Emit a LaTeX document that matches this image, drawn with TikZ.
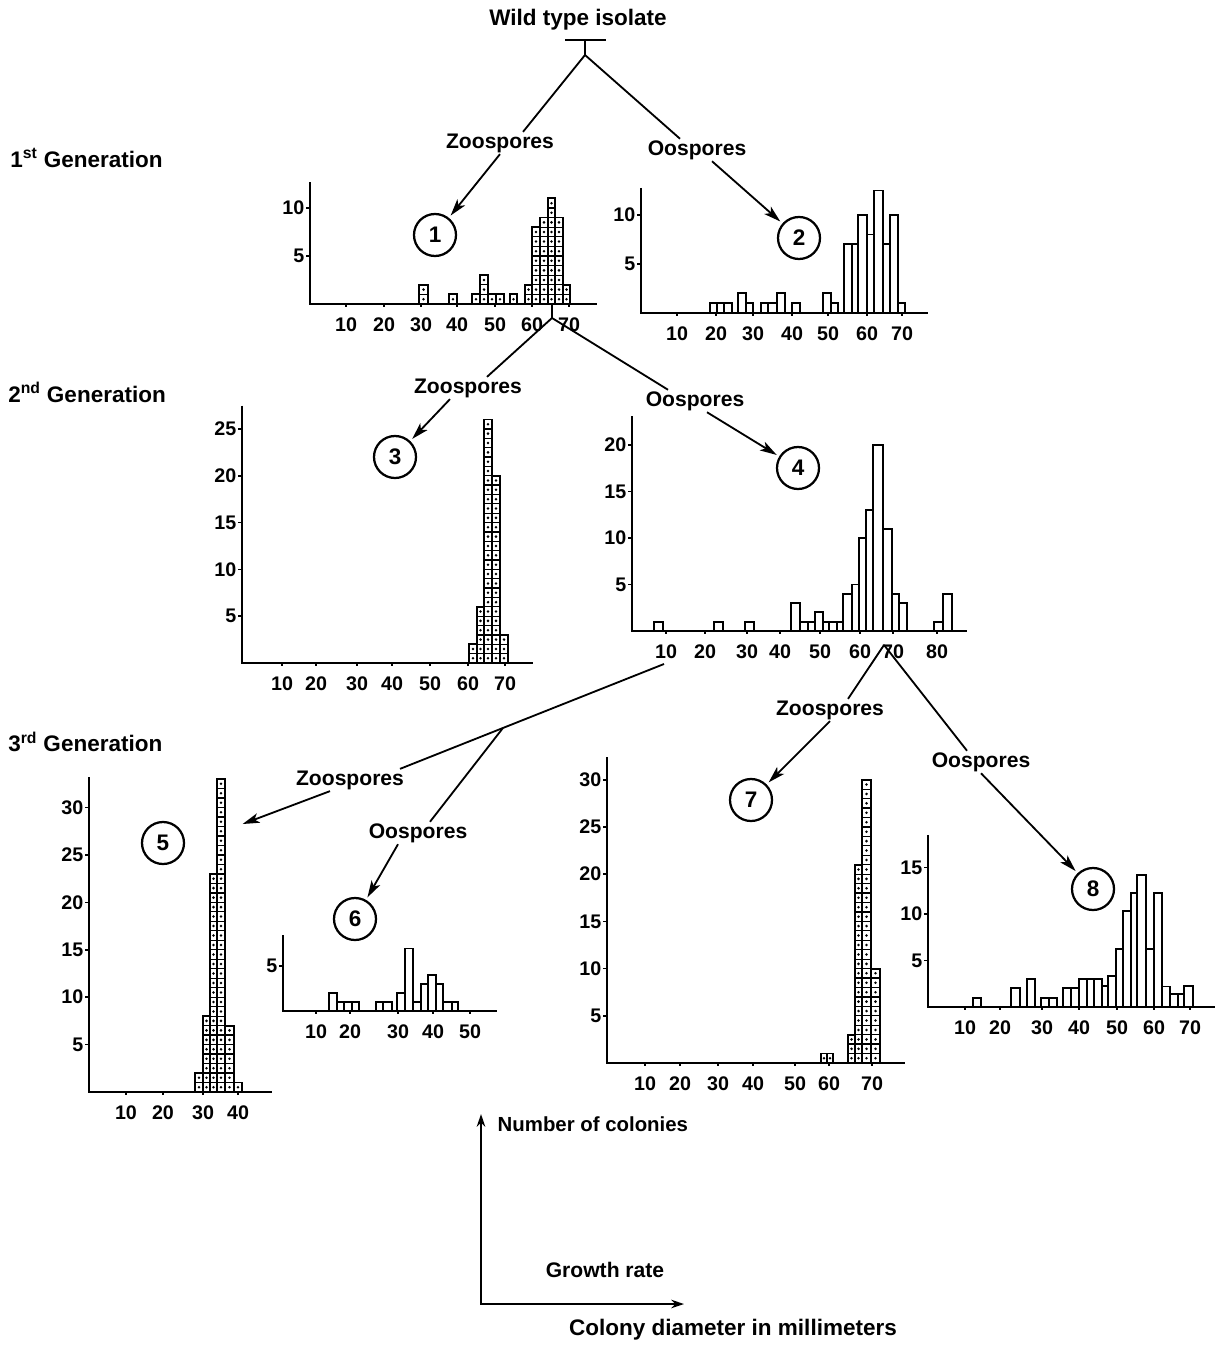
\documentclass[tikz,border=0pt]{standalone}
\usepackage{fontspec}
\setmainfont{Liberation Sans}
\usetikzlibrary{arrows.meta,calc}

\tikzset{
  lbl/.style={font=\fontsize{15}{17}\selectfont\bfseries, inner sep=1pt},
  gen/.style={font=\fontsize{16}{18}\selectfont\bfseries, anchor=west, inner sep=0pt},
  num/.style={circle, draw, line width=1.6pt, minimum size=1.05cm, inner sep=0pt, font=\fontsize{16}{18}\selectfont\bfseries},
  xlab/.style={font=\fontsize{14}{16}\selectfont\bfseries, anchor=center, yshift=-0.52cm, inner sep=0pt},
  ylab/.style={font=\fontsize{14}{16}\selectfont\bfseries, anchor=east, inner sep=1pt},
  axisline/.style={line width=2pt},
  tickline/.style={line width=1.2pt},
  barline/.style={draw, line width=1.3pt},
  cellline/.style={line width=0.9pt},
  branch/.style={line width=1.3pt},
  pointer/.style={line width=1.3pt, -{Stealth[length=12pt,width=7pt,inset=3pt]}, shorten >=2pt},
}

% axes of one histogram: name, axis x, top, end x, x ticks, y ticks
\newcommand{\histaxes}[6]{%
  \draw[axisline] (#2,#3) -- (#2,0) -- (#4,0);
  \foreach \p/\v in {#5}{%
    \draw[tickline] (\p,0) -- (\p,-0.3);
    \node[xlab] (#1x\v) at (\p,0) {\v};
  }
  \foreach \c in {#6}{%
    \draw[tickline] (#2,\c) -- ({#2-4},\c);
    \node[ylab] (#1y\c) at ({#2-4},\c) {\c};
  }
}
\newcommand{\gridbar}[3]{%
  \foreach \k in {1,...,#3}{%
    \draw[cellline] (#1,\k) -- (#2,\k);
    \fill ({(#1+#2)/2},\k-0.5) circle[radius=1pt];
  }
  \draw[barline] (#1,0) rectangle (#2,#3);
}
\newcommand{\plainbar}[3]{\draw[barline] (#1,0) rectangle (#2,#3);}

\begin{document}
\begin{tikzpicture}[x=0.025cm, y=-0.025cm]
    \useasboundingbox (0,0) rectangle (1219,1345);

    % histogram 1
    \begin{scope}[shift={(0,304)}, y=0.24cm]
        \histaxes{h1}{310}{12.7}{597}{346/10,384/20,421/30,457/40,495/50,532/60,569/70}{5,10}
        \foreach \lft/\rgt/\cnt in {419/428/2,449/457/1,472/480/1,480/488/3,488/496/1,496/504/1,510/517/1,
            525/532/2,532/540/8,540/548/9,548/555/11,555/563/9,563/570/2}
            {\gridbar{\lft}{\rgt}{\cnt}}
    \end{scope}

    % histogram 2
    \begin{scope}[shift={(0,313)}, y=0.245cm]
        \histaxes{h2}{641}{12.76}{928}{677/10,716/20,753/30,792/40,828/50,867/60,902/70}{5,10}
        \foreach \lft/\rgt/\cnt in {710/717/1,717/724/1,724/732/1,738/746/2,746/753/1,761/768/1,768/777/1,
            777/785/2,792/800/1,823/831/2,831/838/1,844/852/7,852/858/7,858/867/10,867/874/8,
            874/883/12.5,883/890/7,890/898/10,898/905/1}
            {\plainbar{\lft}{\rgt}{\cnt}}
    \end{scope}

    % histogram 3
    \begin{scope}[shift={(0,663)}, y=0.234cm]
        \histaxes{h3}{242}{27.5}{533}{282/10,316/20,357/30,392/40,430/50,468/60,505/70}{5,10,...,25}
        \foreach \lft/\rgt/\cnt in {469/477/2,477/484/6,484/492/26,492/500/20,500/508/3}
            {\gridbar{\lft}{\rgt}{\cnt}}
    \end{scope}

    % histogram 4
    \begin{scope}[shift={(0,631)}, y=0.2325cm]
        \histaxes{h4}{632}{23.1}{967}{666/10,705/20,747/30,780/40,820/50,860/60,893/70,937/80}{5,10,...,20}
        \foreach \lft/\rgt/\cnt in {654/663/1,714/723/1,745/754/1,791/800/3,800/808/1,808/815/1,815/823/2,
            823/829/1,829/837/1,837/843/1,843/852/4,852/859/5,859/866/10,866/873/13,873/883/20,
            883/892/11,892/899/4,899/907/3,934/943/1,943/952/4}
            {\plainbar{\lft}{\rgt}{\cnt}}
    \end{scope}

    % histogram 5
    \begin{scope}[shift={(0,1092)}, y=0.237cm]
        \histaxes{h5}{89}{33.2}{272}{126/10,163/20,203/30,238/40}{5,10,...,30}
        \foreach \lft/\rgt/\cnt in {195/203/2,203/210/8,210/217/23,217/225/33,225/234/7,234/242/1}
            {\gridbar{\lft}{\rgt}{\cnt}}
    \end{scope}

    % histogram 6
    \begin{scope}[shift={(0,1011)}, y=0.2235cm]
        \histaxes{h6}{283}{8.5}{497}{316/10,350/20,398/30,433/40,470/50}{5}
        \foreach \lft/\rgt/\cnt in {329/337/2,337/344/1,344/352/1,352/359/1,376/383/1,383/392/1,397/405/2,
            405/413/7,413/421/1,421/428/3,428/436/4,436/443/3,443/452/1,452/458/1}
            {\plainbar{\lft}{\rgt}{\cnt}}
    \end{scope}

    % histogram 7
    \begin{scope}[shift={(0,1063)}, y=0.236cm]
        \histaxes{h7}{607}{32.4}{905}{645/10,680/20,718/30,753/40,795/50,829/60,872/70}{5,10,...,30}
        \foreach \lft/\rgt/\cnt in {821/827/1,827/833/1,848/855/3,855/862/21,862/871/30,871/880/10}
            {\gridbar{\lft}{\rgt}{\cnt}}
    \end{scope}

    % histogram 8
    \begin{scope}[shift={(0,1007)}, y=0.2325cm]
        \histaxes{h8}{928}{18.5}{1215}{965/10,1000/20,1042/30,1079/40,1117/50,1154/60,1190/70}{5,10,15}
        \foreach \lft/\rgt/\cnt in {973/981/1,1011/1020/2,1027/1035/3,1041/1049/1,1049/1057/1,1063/1071/2,
            1071/1079/2,1079/1087/3,1087/1094/3,1094/1102/3,1102/1108/2.3,1108/1116/3.3,1116/1123/6.2,
            1123/1131/10.3,1131/1137/12.3,1137/1146/14.2,1146/1154/6.2,1154/1162/12.3,1162/1170/2.2,
            1170/1178/1.4,1178/1184/1.4,1184/1193/2.3}
            {\plainbar{\lft}{\rgt}{\cnt}}
    \end{scope}

    % labels
    \node[lbl, font=\fontsize{16}{18}\selectfont\bfseries] (wt) at (578,20) {Wild type isolate};
    \node[gen] (g1) at (10,158) {1\textsuperscript{st} Generation};
    \node[gen] (g2) at (8,392) {2\textsuperscript{nd} Generation};
    \node[gen] (g3) at (8,742) {3\textsuperscript{rd} Generation};

    \node[lbl] (z1) at (500,143) {Zoospores};
    \node[lbl] (o1) at (697,150) {Oospores};
    \node[num] (c1) at (435,235) {1};
    \node[num] (c2) at (799,238) {2};

    \node[lbl] (z2) at (468,388) {Zoospores};
    \node[lbl] (o2) at (695,401) {Oospores};
    \node[num] (c3) at (395,457) {3};
    \node[num] (c4) at (798,468) {4};

    \node[lbl] (z3) at (350,780) {Zoospores};
    \node[lbl] (o3) at (418,833) {Oospores};
    \node[num] (c5) at (163,843) {5};
    \node[num] (c6) at (355,919) {6};

    \node[lbl] (z4) at (830,710) {Zoospores};
    \node[lbl] (o4) at (981,762) {Oospores};
    \node[num] (c7) at (751,800) {7};
    \node[num] (c8) at (1093,889) {8};

    % tree
    \draw[branch] (565,40) -- (606,40);
    \draw[branch] (585,40) -- (585,55) coordinate (s0);
    \draw[branch] (s0) -- ($(z1.north)+(23,0)$);
    \draw[branch] (s0) -- ($(o1.north)+(-17,0)$);
    \draw[pointer] (z1.south) -- (c1);
    \draw[pointer] ($(o1.south)+(15,0)$) -- (c2);

    \draw[branch] (552,304) -- (552,318) coordinate (b1);
    \draw[branch] (b1) -- ($(z2.north)+(19,0)$);
    \draw[branch] (b1) -- ($(o2.north)+(-27,0)$);
    \draw[pointer] ($(z2.south)+(-18,0)$) -- (c3);
    \draw[pointer] ($(o2.south)+(12,0)$) -- (c4);

    \coordinate (b4l) at (664,664);
    \draw[branch] (b4l) -- coordinate[pos=0.61] (b5) ($(z3.north)+(50,0)$);
    \draw[branch] (b5) -- ($(o3.north)+(12,0)$);
    \coordinate (h5) at (240,825);
    \draw[pointer] ($(z3.south)+(-20,0)$) -- (h5);
    \draw[pointer] ($(o3.south)+(-20,0)$) -- (c6);

    \coordinate (b4r) at (884,645);
    \draw[branch] (b4r) -- ($(z4.north)+(18,0)$);
    \draw[branch] (b4r) -- ($(o4.north)+(-14,0)$);
    \draw[pointer] (z4.south) -- (c7);
    \draw[pointer] (o4.south) -- (c8);

    % key
    \coordinate (lo) at (481,1304);
    \coordinate (ly) at (481,1114);
    \coordinate (lx) at (684,1304);
    \draw[line width=1.5pt, {Stealth[length=9pt,width=6pt]}-{Stealth[length=9pt,width=6pt]}] (ly) -- (lo) -- (lx);
    \node[lbl, font=\fontsize{14.5}{16}\selectfont\bfseries, anchor=west] (ncol) at (496,1124) {Number of colonies};
    \node[lbl] (grow) at (605,1270) {Growth rate};
    \node[lbl, font=\fontsize{16}{18}\selectfont\bfseries] (cdm) at (733,1330) {Colony diameter in millimeters};
\end{tikzpicture}
\end{document}
